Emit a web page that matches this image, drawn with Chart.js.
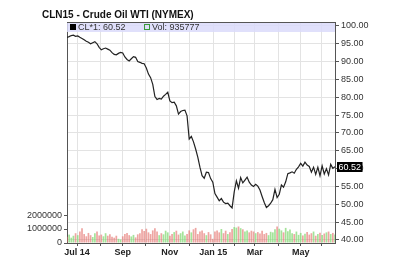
<!DOCTYPE html>
<html><head><meta charset="utf-8">
<script src="https://cdn.jsdelivr.net/npm/chart.js@4"></script>
<style>
html,body{margin:0;padding:0;background:#fff;}
#wrap{position:relative;width:400px;height:262px;}
#title{position:absolute;left:42px;top:9px;font:bold 10px "Liberation Sans",Arial,sans-serif;color:#111;white-space:nowrap;}
canvas{position:absolute;left:0;top:0;}
</style></head><body>
<div id="wrap"><canvas id="c" width="400" height="262"></canvas><div id="title">CLN15 - Crude Oil WTI (NYMEX)</div></div>
<script>
// Price (CL*1), one value every two trading days, mid-Jun 2014 .. mid-Jun 2015
const prices = [
 96.8,97.0,97.3,97.4,97.1,97.2,96.8,96.5,96.1,95.7,95.4,95.0,95.3,95.6,95.0,94.0,
 93.3,93.6,93.8,93.5,93.2,92.5,92.0,91.9,92.3,92.6,
 92.4,91.3,90.6,90.2,90.8,91.4,91.2,90.0,89.8,89.5,89.4,
 88.2,86.5,85.5,83.6,80.2,79.4,79.7,79.5,80.3,80.8,81.4,
 79.0,78.5,78.6,77.6,75.3,76.0,76.3,76.4,74.8,68.3,
 69.0,67.5,65.5,63.2,60.4,58.0,57.3,59.0,58.9,57.2,56.2,
 53.0,52.0,51.0,51.6,50.6,50.2,50.3,49.6,49.0,53.5,
 56.6,54.5,57.5,56.0,56.8,57.6,56.2,55.4,55.0,55.6,
 55.1,54.0,52.2,50.5,49.1,49.6,50.3,51.3,54.2,51.9,
 52.8,55.4,54.8,56.3,58.6,58.8,59.1,58.7,59.8,60.5,61.5,
 60.7,61.8,61.0,60.6,59.0,60.4,58.4,60.4,58.0,60.8,
 58.5,60.0,58.2,61.2,60.1,60.52
];
// Volume in thousands of contracts, same sampling
const volumesK = [
 450,600,380,520,700,560,820,1050,640,480,720,560,430,690,820,540,
 600,480,700,520,620,450,380,520,300,250,
 480,650,720,560,470,580,400,620,700,980,860,
 1020,760,640,900,1060,820,560,700,620,880,760,
 520,640,780,880,600,700,820,540,650,900,
 760,980,1080,640,820,900,700,560,780,620,300,
 820,900,760,1000,700,880,640,760,1000,1140,
 1100,1180,1060,980,820,900,760,880,820,700,
 780,680,880,640,720,560,800,760,980,1180,
 1020,900,760,1080,840,960,700,640,820,580,720,
 540,660,780,600,700,820,520,640,740,580,
 680,760,820,640,720,600
];
const monthTicks = [4.7,15.6,26.0,36.5,47.9,57.3,68.2,78.2,87.6,98.5,109.0,118.9];
const monthLabels = ['Jul 14','','Sep','','Nov','','Jan 15','','Mar','','May',''];
const priceTicks = [40,45,50,55,60,65,70,75,80,85,90,95,100];
const volTicks = [0,1000000,2000000];
const lastPrice = 60.52;
const lastVol = 935777;

const volColors = volumesK.map((v,i)=> (i>0 && prices[i] >= prices[i-1]) ? 'rgba(125,215,110,0.7)' : 'rgba(228,110,105,0.62)');

const FONT = '"Liberation Sans", Arial, sans-serif';
Chart.defaults.font.family = FONT;

const bandPlugin = {
  id:'band',
  beforeDatasetsDraw(chart){
    const {ctx, chartArea:a} = chart;
    ctx.save();
    ctx.fillStyle='rgba(218,218,250,0.85)';
    ctx.fillRect(a.left, a.top, a.right-a.left, 10);
    ctx.restore();
  },
  afterDraw(chart){
    const {ctx, chartArea:a} = chart;
    ctx.save();
    ctx.strokeStyle='#555'; ctx.lineWidth=1;
    ctx.beginPath(); ctx.moveTo(a.left, a.top+0.5); ctx.lineTo(a.right, a.top+0.5); ctx.stroke();
    ctx.font = '9px '+FONT;
    ctx.textBaseline='middle';
    ctx.fillStyle='#000';
    ctx.fillRect(a.left+3, a.top+2, 6, 6);
    ctx.fillStyle='#333';
    ctx.fillText('CL*1: ' + lastPrice.toFixed(2), a.left+11, a.top+5.5);
    ctx.strokeStyle='#3a9a3a';
    ctx.strokeRect(a.left+77.5, a.top+2.5, 5, 5);
    ctx.fillText('Vol: ' + lastVol, a.left+85, a.top+5.5);
    const y = Math.round(chart.scales.price.getPixelForValue(lastPrice));
    ctx.font = '9px '+FONT;
    const w = ctx.measureText(lastPrice.toFixed(2)).width;
    ctx.fillStyle='#000';
    ctx.fillRect(a.right+2, y-5, w+3, 10);
    ctx.fillStyle='#fff';
    ctx.fillText(lastPrice.toFixed(2), a.right+3.5, y+0.5);
    ctx.restore();
  }
};

new Chart(document.getElementById('c'), {
  type:'line',
  data:{
    datasets:[
      {type:'line', data: prices.map((p,i)=>({x:i,y:p})), yAxisID:'price', borderColor:'#222', borderWidth:1.2, pointRadius:0, tension:0, order:0},
      {type:'bar', data: volumesK.map((v,i)=>({x:i,y:v*1000})), yAxisID:'vol', backgroundColor: volColors, barPercentage:0.8, categoryPercentage:1, order:1}
    ]
  },
  options:{
    responsive:false, animation:false,
    layout:{padding:{top:22,left:0,right:0,bottom:0}},
    plugins:{legend:{display:false}, tooltip:{enabled:false}, title:{display:false}},
    scales:{
      x:{type:'linear', min:0, max:prices.length-1, offset:false,
         afterBuildTicks:s=>{s.ticks = monthTicks.map(v=>({value:v}));},
         ticks:{callback:(v,i)=>monthLabels[i], autoSkip:false, maxRotation:0, font:{size:9,weight:'bold'}, color:'#222', padding:1},
         grid:{color:'#e3e3e3', tickLength:3, tickColor:'#555', offset:false},
         border:{color:'#555'},
         afterFit:s=>{s.height=19;}},
      price:{type:'linear', position:'right', min:39.15, max:101.1,
         afterBuildTicks:s=>{s.ticks = priceTicks.map(v=>({value:v}));},
         ticks:{callback:v=>Number(v).toFixed(2), font:{size:9}, color:'#333', padding:2},
         grid:{color:'#e3e3e3', tickLength:4, tickColor:'#555'},
         border:{color:'#555'},
         afterFit:s=>{s.width=65;}},
      vol:{type:'linear', position:'left', min:0, max:15800000,
         afterBuildTicks:s=>{s.ticks = volTicks.map(v=>({value:v}));},
         ticks:{callback:v=>String(v), font:{size:9}, color:'#333', padding:2},
         grid:{drawOnChartArea:false, tickLength:3, tickColor:'#555'},
         border:{color:'#555'},
         afterFit:s=>{s.width=67;}}
    }
  },
  plugins:[bandPlugin]
});
</script>
</body></html>
